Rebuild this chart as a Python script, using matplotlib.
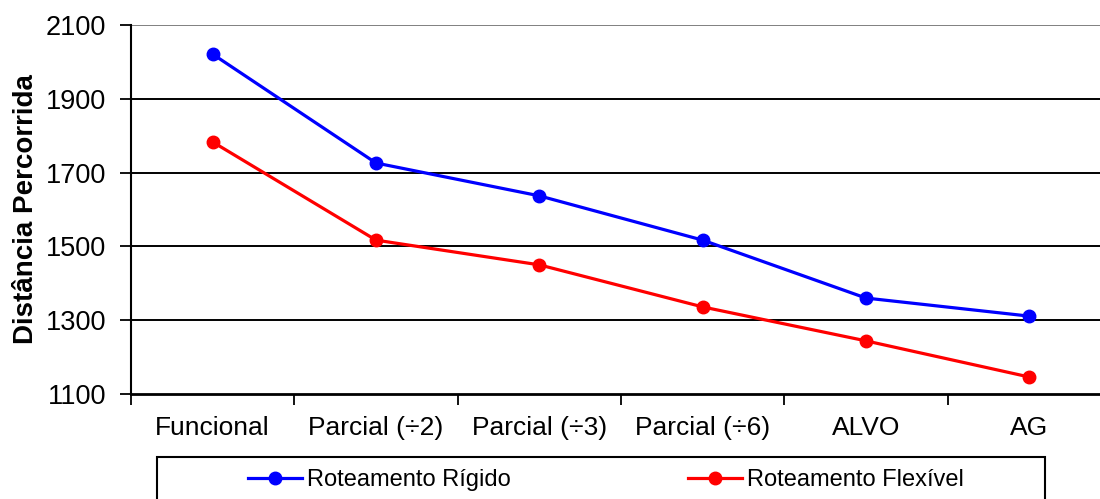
import matplotlib
matplotlib.use("Agg")
import matplotlib.pyplot as plt
from matplotlib.patches import Rectangle

plt.rcParams['font.family'] = ['Liberation Sans', 'DejaVu Sans']

categorias = ["Funcional", "Parcial (÷2)", "Parcial (÷3)", "Parcial (÷6)", "ALVO", "AG"]
rigido = [2021, 1726, 1637, 1517, 1360, 1311]
flexivel = [1783, 1517, 1450, 1336, 1244, 1146]
yticks = [1100, 1300, 1500, 1700, 1900, 2100]

W, H = 1100, 499
fig = plt.figure(figsize=(W / 100, H / 100), dpi=100)
ax = fig.add_axes([131 / W, 1 - 394 / H, 980 / W, 369 / H])

x = list(range(len(categorias)))
ax.plot(x, rigido, color="#0000ff", lw=2.3, marker="o", ms=9, label="Roteamento Rígido", zorder=3)
ax.plot(x, flexivel, color="#ff0000", lw=2.3, marker="o", ms=9, label="Roteamento Flexível", zorder=3)

ax.set_xlim(-0.5, len(categorias) - 0.5)
ax.set_ylim(1100, 2100)
ax.set_yticks(yticks)
for t in yticks[1:-1]:
    ax.axhline(t, color="black", lw=1.4, zorder=1)
ax.axhline(2100, color="#808080", lw=1.4, zorder=1)

# marcas entre categorias, rotulos no centro
ax.set_xticks([i - 0.5 for i in range(len(categorias) + 1)])
ax.set_xticklabels([])
ax.set_xticks(x, minor=True)
ax.set_xticklabels(categorias, minor=True, fontsize=19)
ax.tick_params(axis="x", which="major", length=8, width=1.3, direction="out")
ax.tick_params(axis="x", which="minor", length=0, pad=16)
ax.tick_params(axis="y", length=8, width=1.3, labelsize=19.5, pad=10)

for s in ["top", "right"]:
    ax.spines[s].set_visible(False)
ax.spines["left"].set_linewidth(1.5)
ax.spines["bottom"].set_linewidth(2)

ax.set_ylabel("Distância Percorrida", fontsize=20, fontweight="bold")
ax.yaxis.set_label_coords(-0.094, 0.5)

fig.patches.append(Rectangle((157 / W, -0.1), 888 / W, 0.1 + 1 - 457 / H,
                             transform=fig.transFigure, fill=False,
                             edgecolor="black", lw=1.5))
fig.legend(loc="center", bbox_to_anchor=(606 / W, 1 - 480 / H), ncol=2,
           frameon=False, fontsize=17, handlelength=2.3, handletextpad=0.2,
           columnspacing=7.5)

fig.savefig("out.png", dpi=100)
